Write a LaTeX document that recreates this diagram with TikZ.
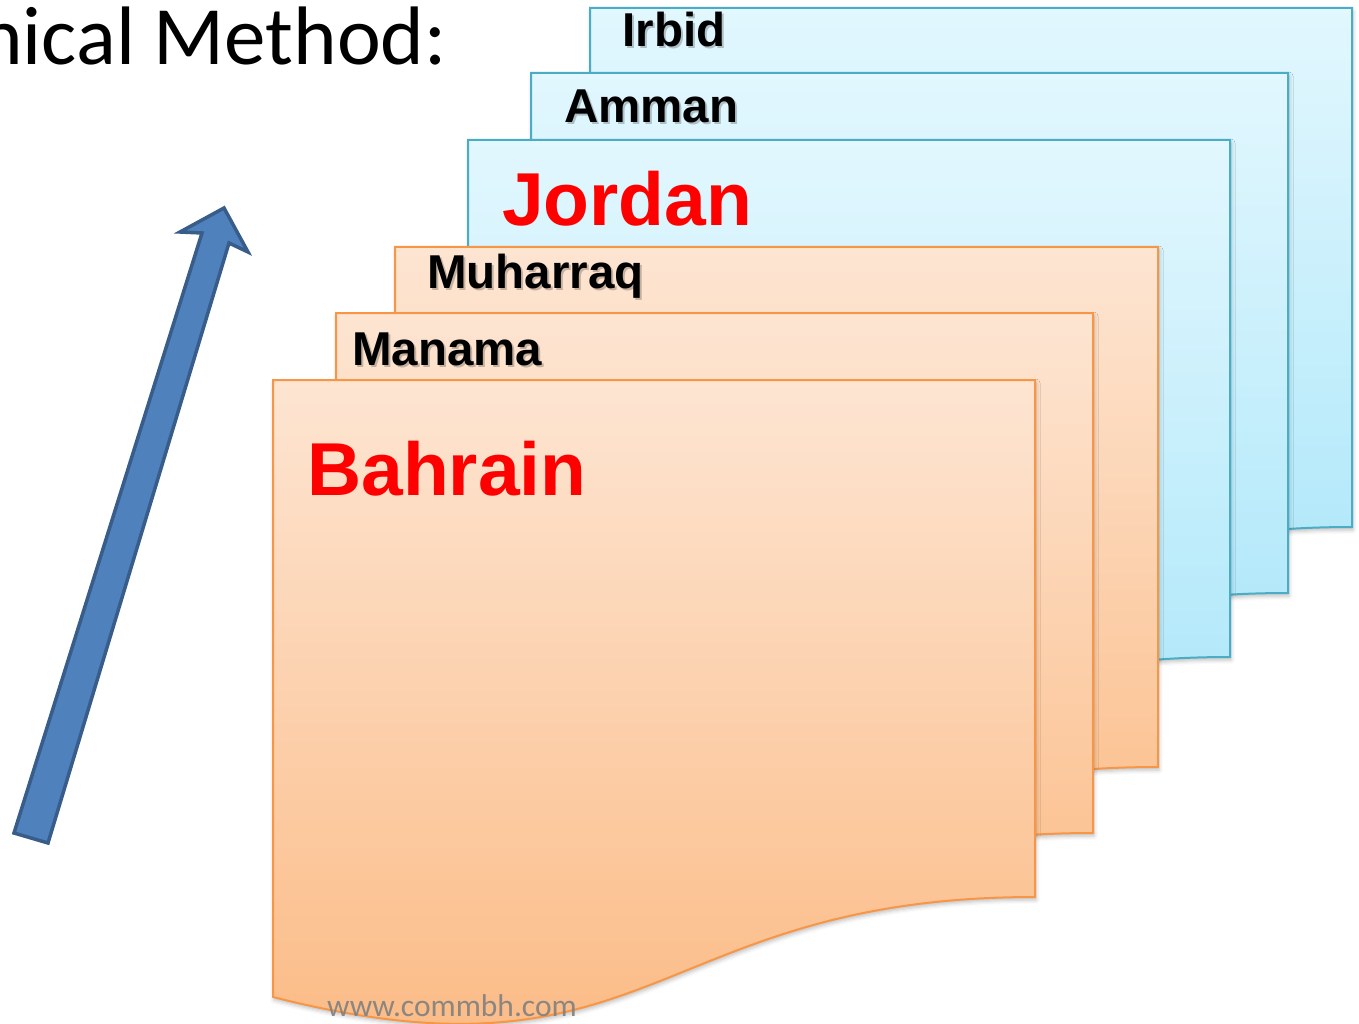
\documentclass[tikz,border=0pt]{standalone}
\usepackage{fontspec}
\setmainfont{Liberation Sans}
\newfontfamily\calibri{Carlito}
\usetikzlibrary{shadows.blur}

\definecolor{blueline}{HTML}{4BACC6}
\definecolor{bluetop}{HTML}{E2F7FE}
\definecolor{bluebot}{HTML}{A3E4F9}
\definecolor{orangeline}{HTML}{F79646}
\definecolor{orangetop}{HTML}{FDE5D2}
\definecolor{orangebot}{HTML}{FBB880}
\definecolor{arrowfill}{HTML}{4F81BD}
\definecolor{arrowline}{HTML}{385D8A}

\begin{document}
\begin{tikzpicture}[x=1pt,y=-1pt,
  docshadow/.style={blur shadow={shadow xshift=1pt,shadow yshift=-3pt,shadow blur radius=4pt,shadow opacity=25}},
  bluedoc/.style={draw=blueline,line width=2pt,line join=miter,top color=bluetop,bottom color=bluebot,docshadow},
  orangedoc/.style={draw=orangeline,line width=2pt,line join=miter,top color=orangetop,bottom color=orangebot,docshadow},
  citylabel/.style={font=\fontsize{47.5}{52}\selectfont\bfseries,anchor=base west,inner sep=0pt,text=black},
  cityshade/.style={citylabel,text=black,opacity=0.22},
  countrylabel/.style={font=\fontsize{75}{82}\selectfont\bfseries,anchor=base west,inner sep=0pt,text=red},
  blockarrow/.style={fill=arrowfill,draw=arrowline,line width=3.5pt,line join=miter}]
\useasboundingbox (0,0) rectangle (1359,1024);

% heading, cut by the left edge of the page
\begin{scope}
\clip (0,0) rectangle (1359,1024);
\node[font=\calibri\fontsize{83}{90}\selectfont,anchor=base east,inner sep=0pt] (heading) at (447,65) {nical Method:};
\end{scope}

% stacked document sheets, back to front
\path[bluedoc] (590,8) -- (1352,8) -- (1352,527)
  .. controls (971,527) and (971,724) .. (590,627) -- cycle;
\node[cityshade] (irbidsh) at (624.5,49) {Irbid};
\node[citylabel] (irbid) at (622.5,47) {Irbid};

\path[bluedoc] (531,73) -- (1288,73) -- (1288,593)
  .. controls (909,593) and (909,790) .. (531,693) -- cycle;
\node[cityshade] (ammansh) at (566,125) {Amman};
\node[citylabel] (amman) at (564,123) {Amman};

\path[bluedoc] (468,140) -- (1230,140) -- (1230,657)
  .. controls (849,657) and (849,854) .. (468,757) -- cycle;
\node[countrylabel] (jordan) at (502,226) {Jordan};

\path[orangedoc] (395,247) -- (1158,247) -- (1158,767)
  .. controls (776,767) and (776,964) .. (395,867) -- cycle;
\node[cityshade] (muharraqsh) at (429,290) {Muharraq};
\node[citylabel] (muharraq) at (427,288) {Muharraq};

\path[orangedoc] (336,313) -- (1093,313) -- (1093,833)
  .. controls (714,833) and (714,1030) .. (336,933) -- cycle;
\node[cityshade] (manamash) at (354,367) {Manama};
\node[citylabel] (manama) at (352,365) {Manama};

\path[orangedoc] (273,380) -- (1035,380) -- (1035,897)
  .. controls (654,897) and (654,1094) .. (273,997) -- cycle;
\node[countrylabel] (bahrain) at (307,495) {Bahrain};

% site address along the lower edge
\node[font=\calibri\fontsize{31.5}{34}\selectfont,text=gray,anchor=base west,inner sep=0pt,opacity=0.9] (site) at (327,1016) {www.commbh.com};

% rising block arrow
\draw[blockarrow] (14,833) -- (48,843) -- (229,243) -- (248,252) -- (224,208)
  -- (180,232) -- (202,233) -- cycle;
\end{tikzpicture}
\end{document}
